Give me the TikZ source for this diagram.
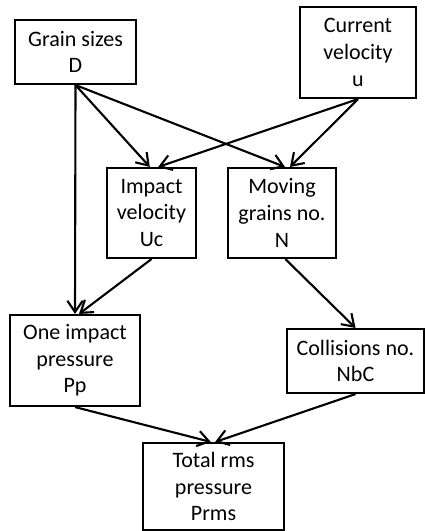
\documentclass[tikz,border=0pt]{standalone}
\usepackage{fontspec}
\setmainfont{Carlito}
\usetikzlibrary{arrows.meta}
\tikzstyle{box} = [rectangle, draw, line width=1.8pt, align=center, inner sep=0pt, font=\fontsize{18.8}{22.7}\selectfont]
\tikzstyle{link} = [-{Straight Barb[length=3.4mm,width=4.6mm,line width=1.8pt]}, draw, line width=1.8pt]

\begin{document}
\begin{tikzpicture}[x=0.03cm,y=-0.03cm]
    \useasboundingbox (0,0) rectangle (425,531);
    % inputs
    \node[box, minimum width=3.63cm, minimum height=1.92cm] (grain) at (75.5,52) {Grain sizes\\D};
    \node[box, minimum width=3.48cm, minimum height=2.73cm] (current) at (358,52.5) {Current\\velocity\\u};
    % middle row
    \node[box, minimum width=2.67cm, minimum height=2.7cm] (impact) at (151.5,213) {Impact\\velocity\\Uc};
    \node[box, minimum width=3.24cm, minimum height=2.7cm] (moving) at (282,213) {Moving\\grains no.\\N};
    \node[box, minimum width=3.9cm, minimum height=2.73cm] (pressure) at (75,360.5) {One impact\\pressure\\Pp};
    \node[box, minimum width=4.11cm, minimum height=1.92cm] (collisions) at (355.5,361) {Collisions no.\\NbC};
    % result
    \node[box, minimum width=4.23cm, minimum height=2.61cm] (total) at (213.5,486.5) {Total rms\\pressure\\Prms};

    \draw[link] (grain.south) -- ([xshift=-0.05cm]impact.north);
    \draw[link] (grain.south) -- ([xshift=0.09cm]moving.north);
    \draw[link] (grain.south) -- (pressure.north);
    \draw[link] (current.south) -- ([xshift=0.2cm]impact.north);
    \draw[link] (current.south) -- ([xshift=0.24cm]moving.north);
    \draw[link] (impact.south) -- ([xshift=0.12cm]pressure.north);
    \draw[link] ([xshift=0.1cm]moving.south) -- (collisions.north);
    \draw[link] (pressure.south) -- ([xshift=-0.08cm]total.north);
    \draw[link] (collisions.south) -- ([xshift=0.05cm]total.north);
\end{tikzpicture}
\end{document}
